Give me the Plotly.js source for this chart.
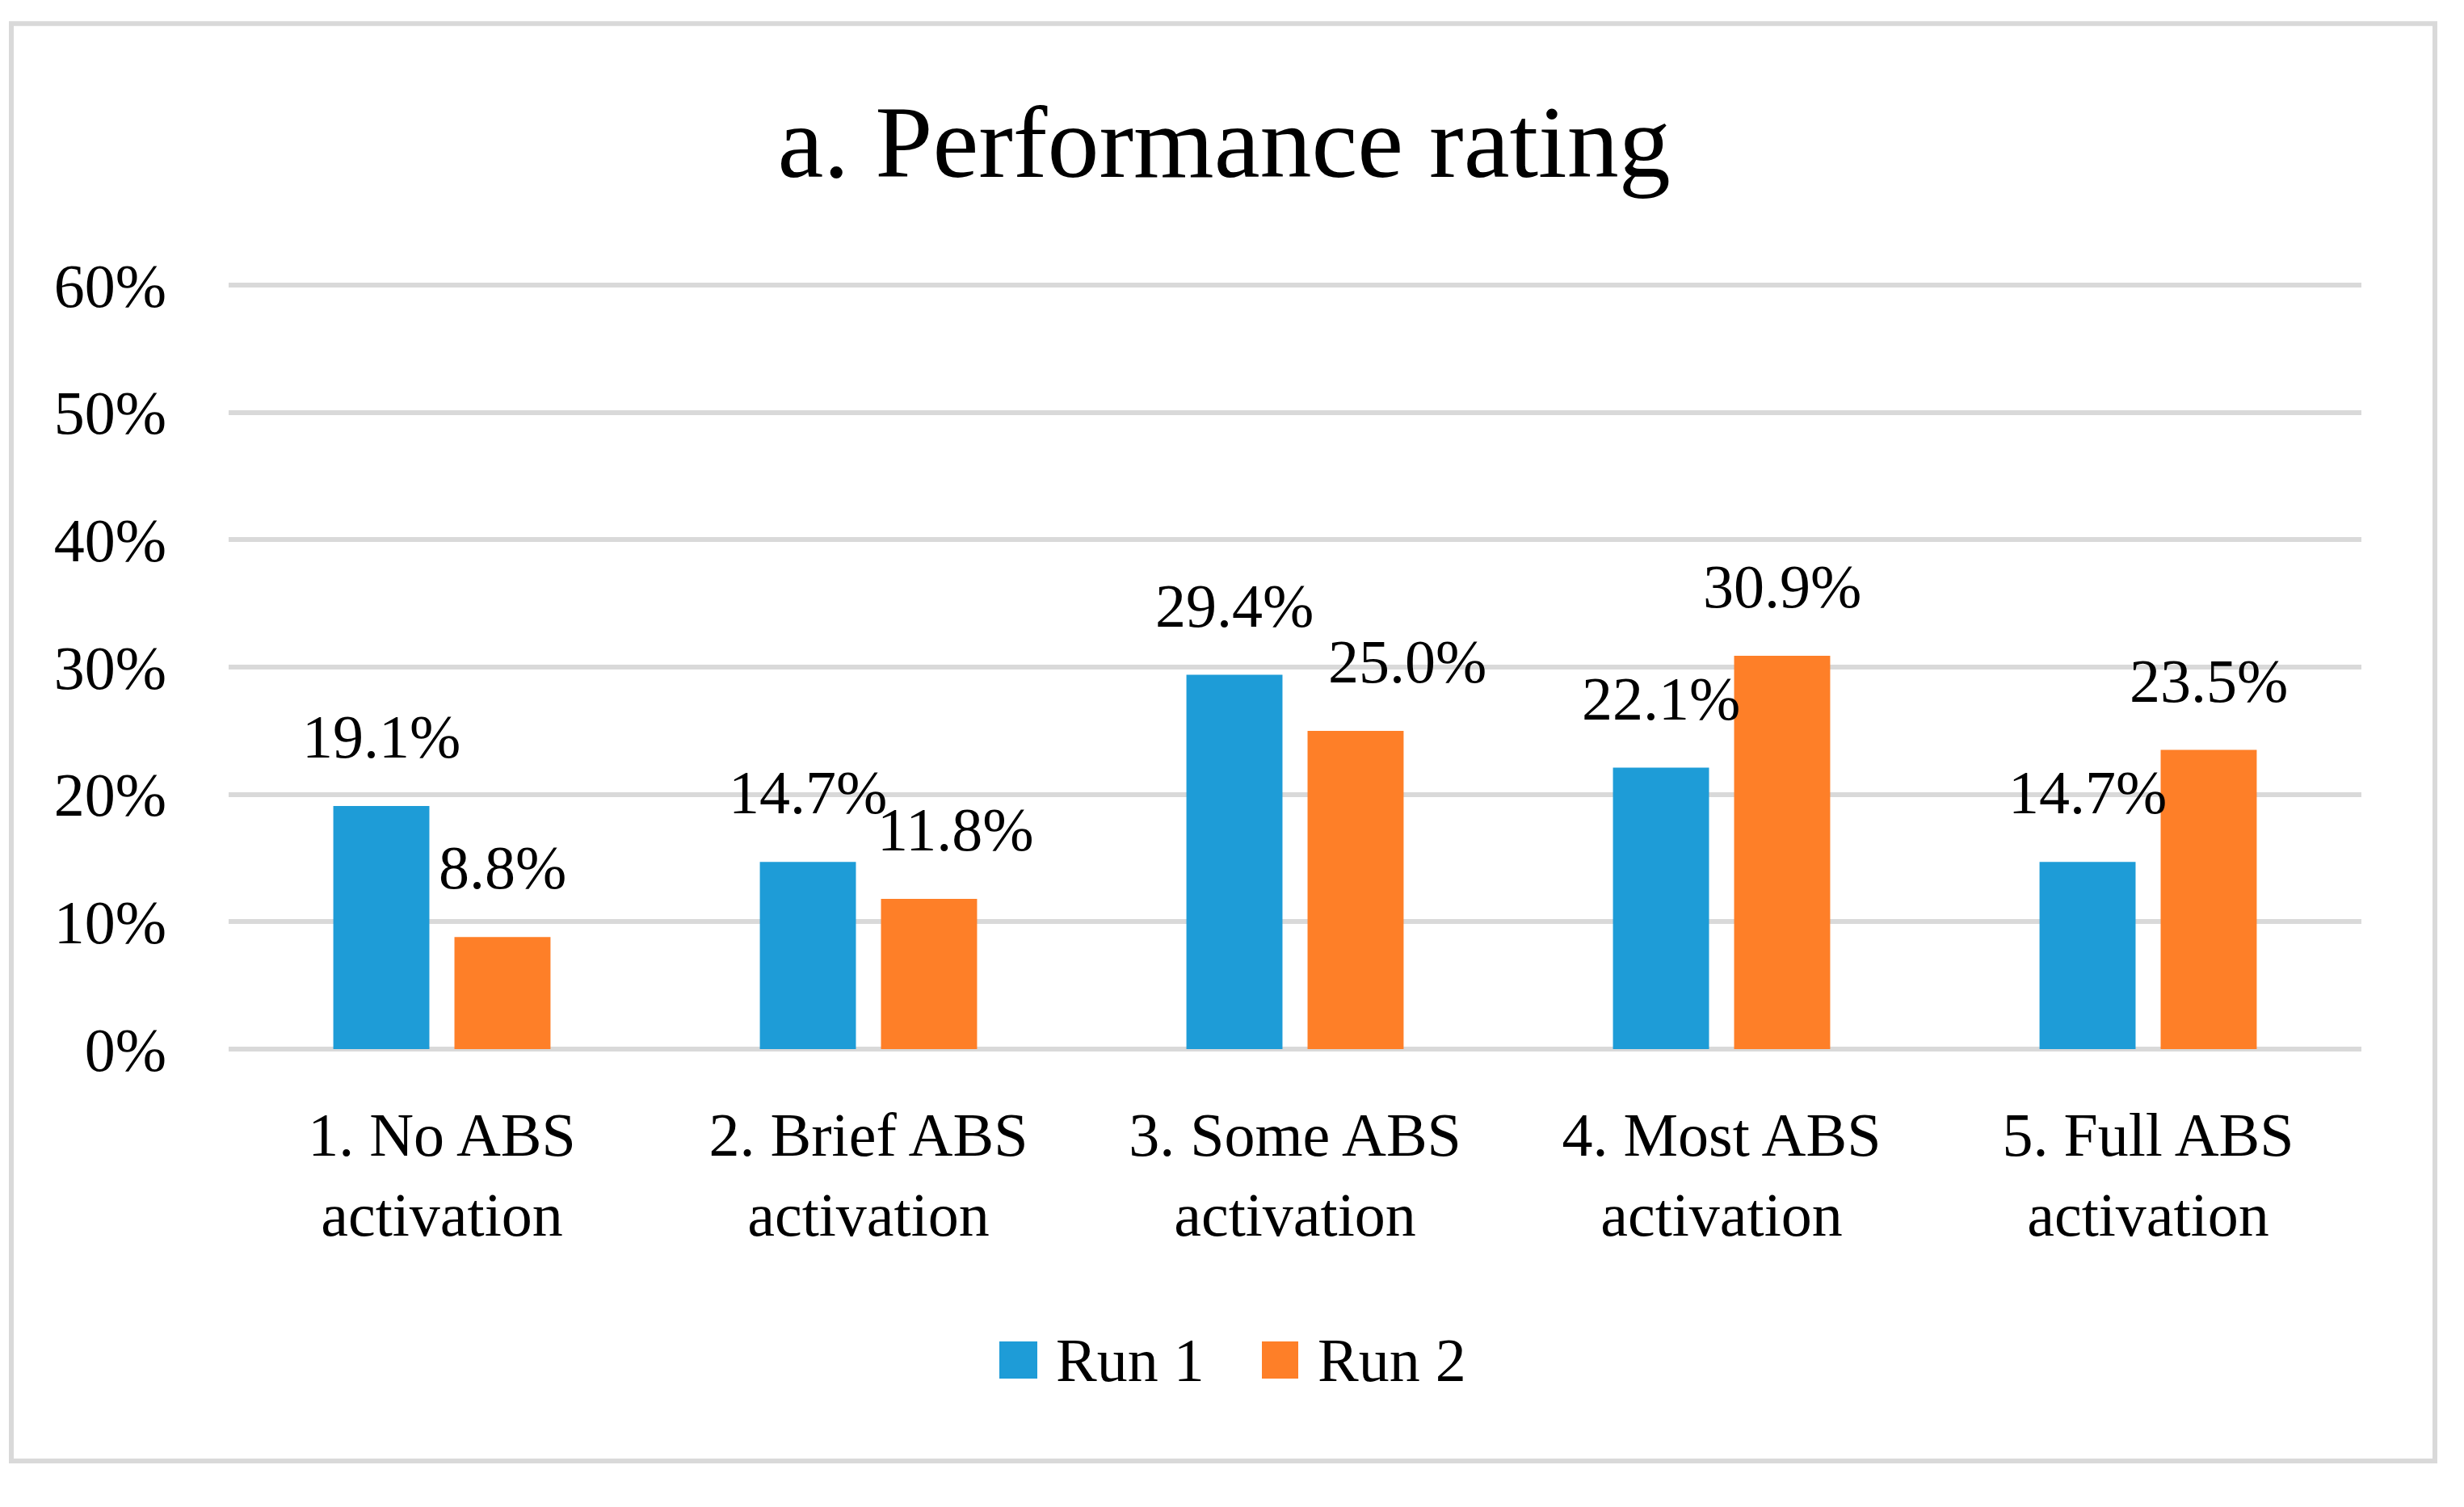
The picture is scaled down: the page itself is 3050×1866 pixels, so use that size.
<!DOCTYPE html>
<html>
<head>
<meta charset="utf-8">
<script src="https://cdn.plot.ly/plotly-3.0.1.min.js"></script>
<style>
  html, body { margin: 0; padding: 0; background: #ffffff; }
  #chart { width: 3050px; height: 1866px; }
</style>
</head>
<body>
<div id="chart"></div>
<script>
// ---- data ----
const categories = [
  "1. No ABS<br>activation",
  "2. Brief ABS<br>activation",
  "3. Some ABS<br>activation",
  "4. Most ABS<br>activation",
  "5. Full ABS<br>activation"
];
const seriesNames = ["Run 1", "Run 2"];
const run1 = [0.191, 0.147, 0.294, 0.221, 0.147];
const run2 = [0.088, 0.118, 0.250, 0.309, 0.235];
const yTickVals = [0, 0.1, 0.2, 0.3, 0.4, 0.5, 0.6];
const yTickText = ["0%", "10%", "20%", "30%", "40%", "50%", "60%"];
const titleText = "a. Performance rating";

// ---- style ----
const colors = ["#1E9CD7", "#FE7F28"];
const FONT = "'Liberation Serif', 'Times New Roman', serif";
const W = 3050, H = 1866;
const Y_MAX = 0.602;               // slightly above 60% so its gridline is drawn
const bottomPx = 1299, top60Px = 353;
const plotH = (bottomPx - top60Px) * Y_MAX / 0.6;
const M = { l: 283, r: 127, t: Math.round(bottomPx - plotH), b: H - bottomPx };
const plotW = W - M.l - M.r;
const px2x = p => (p - M.l) / plotW;
const py2y = p => (bottomPx - p) / plotH;

const seriesValues = [run1, run2];
const traces = seriesValues.map((vals, i) => ({
  type: "bar",
  name: seriesNames[i],
  x: categories,
  y: vals,
  marker: { color: colors[i] },
  showlegend: false,
  hoverinfo: "skip"
}));

// data labels above bars (with the small manual nudges seen in the original)
const offsets = [-75, 75];
const labelNudge = [[0, 0, 0, 0, 0], [0, 33, 64, 0, 0]];
const annotations = [];
seriesValues.forEach((vals, i) => {
  vals.forEach((v, j) => {
    annotations.push({
      x: categories[j], y: v, xref: "x", yref: "y",
      text: (v * 100).toFixed(1) + "%",
      showarrow: false, xanchor: "center", yanchor: "bottom",
      xshift: offsets[i] + labelNudge[i][j], yshift: 42,
      font: { family: FONT, size: 76, color: "#000000" }
    });
  });
});

// custom legend (large square swatches like the original)
const legendItems = [
  { sq0: 1237, sq1: 1284, tx: 1305 },
  { sq0: 1562, sq1: 1607, tx: 1629 }
];
const shapes = [];
legendItems.forEach((it, i) => {
  shapes.push({
    type: "rect", xref: "paper", yref: "paper",
    x0: px2x(it.sq0), x1: px2x(it.sq1), y0: py2y(1707), y1: py2y(1661),
    fillcolor: colors[i], line: { width: 0 }
  });
  annotations.push({
    xref: "paper", yref: "paper", x: px2x(it.tx), y: py2y(1684),
    text: seriesNames[i], showarrow: false, xanchor: "left", yanchor: "middle",
    font: { family: FONT, size: 76, color: "#000000" }
  });
});
// outer chart border
shapes.push({
  type: "rect", xref: "paper", yref: "paper",
  x0: px2x(14), x1: px2x(3014), y0: py2y(1809), y1: py2y(29),
  line: { color: "#D9D9D9", width: 6 }, fillcolor: "rgba(0,0,0,0)", layer: "below"
});

const layout = {
  width: W, height: H,
  margin: M,
  paper_bgcolor: "#ffffff", plot_bgcolor: "#ffffff",
  font: { family: FONT, size: 76, color: "#000000" },
  title: {
    text: titleText, xref: "container", x: 1515 / W, xanchor: "center",
    yref: "container", y: 1 - 174 / H, yanchor: "middle",
    font: { family: FONT, size: 128, color: "#000000" }
  },
  barmode: "group",
  bargap: 0.432,
  bargroupgap: 0.207,
  showlegend: false,
  xaxis: {
    type: "category", tickangle: 0, showgrid: false, zeroline: false, showline: false,
    ticks: "", automargin: false, ticklabelstandoff: 55,
    tickfont: { family: FONT, size: 76, color: "#000000" }
  },
  yaxis: {
    range: [0, Y_MAX], tickvals: yTickVals, ticktext: yTickText,
    showgrid: true, gridcolor: "#D9D9D9", gridwidth: 6,
    zeroline: true, zerolinecolor: "#D9D9D9", zerolinewidth: 6,
    showline: false, ticks: "", automargin: false, ticklabelstandoff: 76,
    tickfont: { family: FONT, size: 76, color: "#000000" }
  },
  annotations: annotations,
  shapes: shapes
};

Plotly.newPlot("chart", traces, layout, { staticPlot: true, displayModeBar: false });
</script>
</body>
</html>
